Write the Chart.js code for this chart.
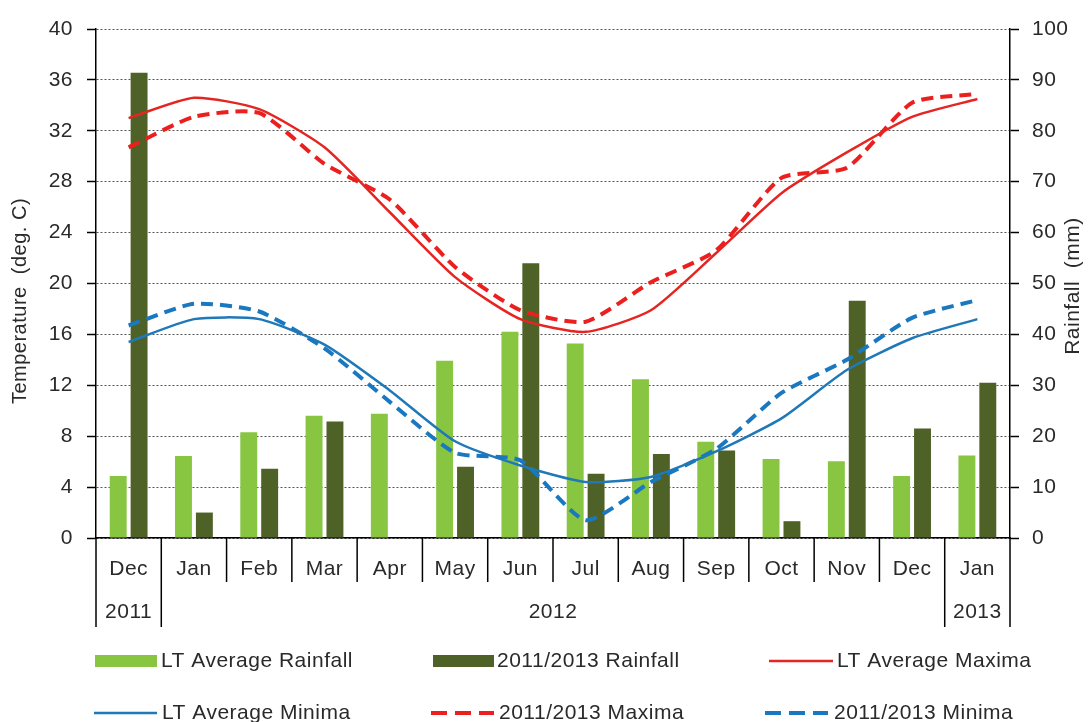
<!DOCTYPE html>
<html><head><meta charset="utf-8">
<script src="https://cdn.jsdelivr.net/npm/chart.js@4.4.0/dist/chart.umd.min.js"></script>
<style>html,body{margin:0;padding:0;background:#fff;}#wrap{width:1091px;height:722px;}</style>
</head><body><div id="wrap"><canvas id="c" width="1091" height="722"></canvas></div>
<script>
const months = ['Dec','Jan','Feb','Mar','Apr','May','Jun','Jul','Aug','Sep','Oct','Nov','Dec','Jan'];
const years = ['2011','2012','2013'];
const tempTicks = [0,4,8,12,16,20,24,28,32,36,40];
const rainTicks = [0,10,20,30,40,50,60,70,80,90,100];
const ltRain  = [12.2,16.1,20.8,24.0,24.4,34.8,40.5,38.2,31.2,18.9,15.5,15.1,12.2,16.2];
const obsRain = [91.4,5.0,13.6,22.9,0,14.0,54.0,12.6,16.5,17.2,3.3,46.6,21.5,30.5];
const ltMax  = [33.0,34.6,33.7,30.7,25.6,20.5,17.2,16.2,17.9,22.4,27.1,30.3,33.1,34.5];
const obsMax = [30.7,33.1,33.4,29.4,26.6,21.3,17.9,17.0,20.1,22.6,28.3,29.1,34.2,34.9];
const ltMin  = [15.4,17.2,17.2,15.2,11.6,7.6,5.7,4.4,4.8,6.8,9.4,13.2,15.7,17.2];
const obsMin = [16.7,18.4,17.8,14.9,10.7,6.7,6.1,1.4,4.4,7.0,11.4,14.0,17.3,18.7];

const FONT = '"Liberation Sans", Arial, sans-serif';
const C = {lightG:'#88c541', darkG:'#4e6126', red:'#e52521', redD:'#ec1f1f', blue:'#1f78b8', blueD:'#1a78c0', txt:'#2a2a2a'};

const extras = {
  id:'extras',
  beforeDraw(chart){ chart.ctx.letterSpacing = '0.5px'; },
  afterDraw(chart){
    const ctx = chart.ctx, x = chart.scales.x, a = chart.chartArea;
    ctx.save();
    ctx.letterSpacing = '0.5px';
    ctx.strokeStyle = '#000'; ctx.lineWidth = 1.5;
    const n = months.length;
    for (let i=0;i<=n;i++){
      const px = i===0 ? a.left : (i===n ? a.right : (x.getPixelForValue(i-1)+x.getPixelForValue(i))/2);
      const longL = (i===0||i===1||i===n-1||i===n);
      ctx.beginPath(); ctx.moveTo(px, a.bottom); ctx.lineTo(px, longL ? a.bottom+89 : a.bottom+44); ctx.stroke();
    }
    ctx.fillStyle = C.txt; ctx.font = '21px '+FONT; ctx.textAlign='center'; ctx.textBaseline='middle';
    const yy = a.bottom + 74;
    ctx.fillText(years[0], x.getPixelForValue(0), yy);
    ctx.fillText(years[1], (x.getPixelForValue(1)+x.getPixelForValue(n-2))/2, yy);
    ctx.fillText(years[2], x.getPixelForValue(n-1), yy);
    ctx.save(); ctx.translate(20, 301); ctx.rotate(-Math.PI/2);
    ctx.font = '20px '+FONT; ctx.fillText('Temperature  (deg. C)', 0, 0); ctx.restore();
    ctx.save(); ctx.translate(1073, 286); ctx.rotate(-Math.PI/2);
    ctx.font = '21px '+FONT; ctx.fillText('Rainfall  (mm)', 0, 0); ctx.restore();
    const ds = chart.data.datasets;
    const items = [
      {d:ds[4], x0:95, x1:157, y:661, tx:161},
      {d:ds[5], x0:433, x1:494, y:661, tx:497},
      {d:ds[0], x0:769, x1:833, y:661, tx:837},
      {d:ds[2], x0:94, x1:157, y:713, tx:162},
      {d:ds[1], x0:431, x1:494, y:713, tx:499},
      {d:ds[3], x0:765, x1:828, y:713, tx:834}
    ];
    ctx.textAlign='left'; ctx.font='21px '+FONT;
    items.forEach(it=>{
      const d = it.d;
      if (d.type==='bar'){
        ctx.fillStyle = d.backgroundColor; ctx.fillRect(it.x0, it.y-6, it.x1-it.x0, 12);
      } else {
        ctx.strokeStyle = d.borderColor; ctx.lineWidth = d.borderWidth;
        ctx.setLineDash(d.borderDash ? [16,8] : []);
        ctx.beginPath(); ctx.moveTo(it.x0, it.y); ctx.lineTo(it.x1, it.y); ctx.stroke();
        ctx.setLineDash([]);
      }
      ctx.fillStyle = C.txt; ctx.fillText(d.label, it.tx, it.y);
    });
    ctx.restore();
  }
};

const lineDs = (label, data, color, dashed) => ({
  type:'line', label, data, yAxisID:'y', borderColor:color, backgroundColor:color,
  borderWidth: dashed ? 4 : 2.5, borderDash: dashed ? [12,7] : undefined,
  pointRadius:0, tension:0.2, fill:false, order:0
});

new Chart(document.getElementById('c'), {
  data:{
    labels: months,
    datasets:[
      lineDs('LT Average Maxima', ltMax, C.red, false),
      lineDs('2011/2013 Maxima', obsMax, C.redD, true),
      lineDs('LT Average Minima', ltMin, C.blue, false),
      lineDs('2011/2013 Minima', obsMin, C.blueD, true),
      {type:'bar', label:'LT Average Rainfall', data:ltRain, yAxisID:'y1', backgroundColor:C.lightG, categoryPercentage:0.64, barPercentage:0.81, order:1},
      {type:'bar', label:'2011/2013 Rainfall', data:obsRain, yAxisID:'y1', backgroundColor:C.darkG, categoryPercentage:0.64, barPercentage:0.81, order:1}
    ]
  },
  options:{
    responsive:false, animation:false, devicePixelRatio:1,
    layout:{padding:{top:29,left:0,right:0,bottom:0}},
    plugins:{legend:{display:false}, tooltip:{enabled:false}},
    scales:{
      x:{
        offset:true,
        grid:{display:false},
        border:{display:true, color:'#000', width:1.5},
        ticks:{font:{size:21, family:FONT}, color:C.txt, padding:11, maxRotation:0, autoSkip:false},
        afterFit(s){ s.height = 184; }
      },
      y:{
        position:'left', min:0, max:40,
        afterBuildTicks(s){ s.ticks = tempTicks.map(v=>({value:v})); },
        ticks:{font:{size:21, family:FONT}, color:C.txt, padding:14},
        grid:{color:'#555', lineWidth:1, tickColor:'#000', tickLength:9, tickWidth:1.5},
        border:{color:'#000', width:1.5, dash:[2,2]},
        afterFit(s){ s.width = 96; }
      },
      y1:{
        position:'right', min:0, max:100,
        afterBuildTicks(s){ s.ticks = rainTicks.map(v=>({value:v})); },
        ticks:{font:{size:21, family:FONT}, color:C.txt, padding:13},
        grid:{drawOnChartArea:false, tickColor:'#000', tickLength:9, tickWidth:1.5},
        border:{color:'#000', width:1.5},
        afterFit(s){ s.width = 81; }
      }
    }
  },
  plugins:[extras]
});
</script></body></html>
